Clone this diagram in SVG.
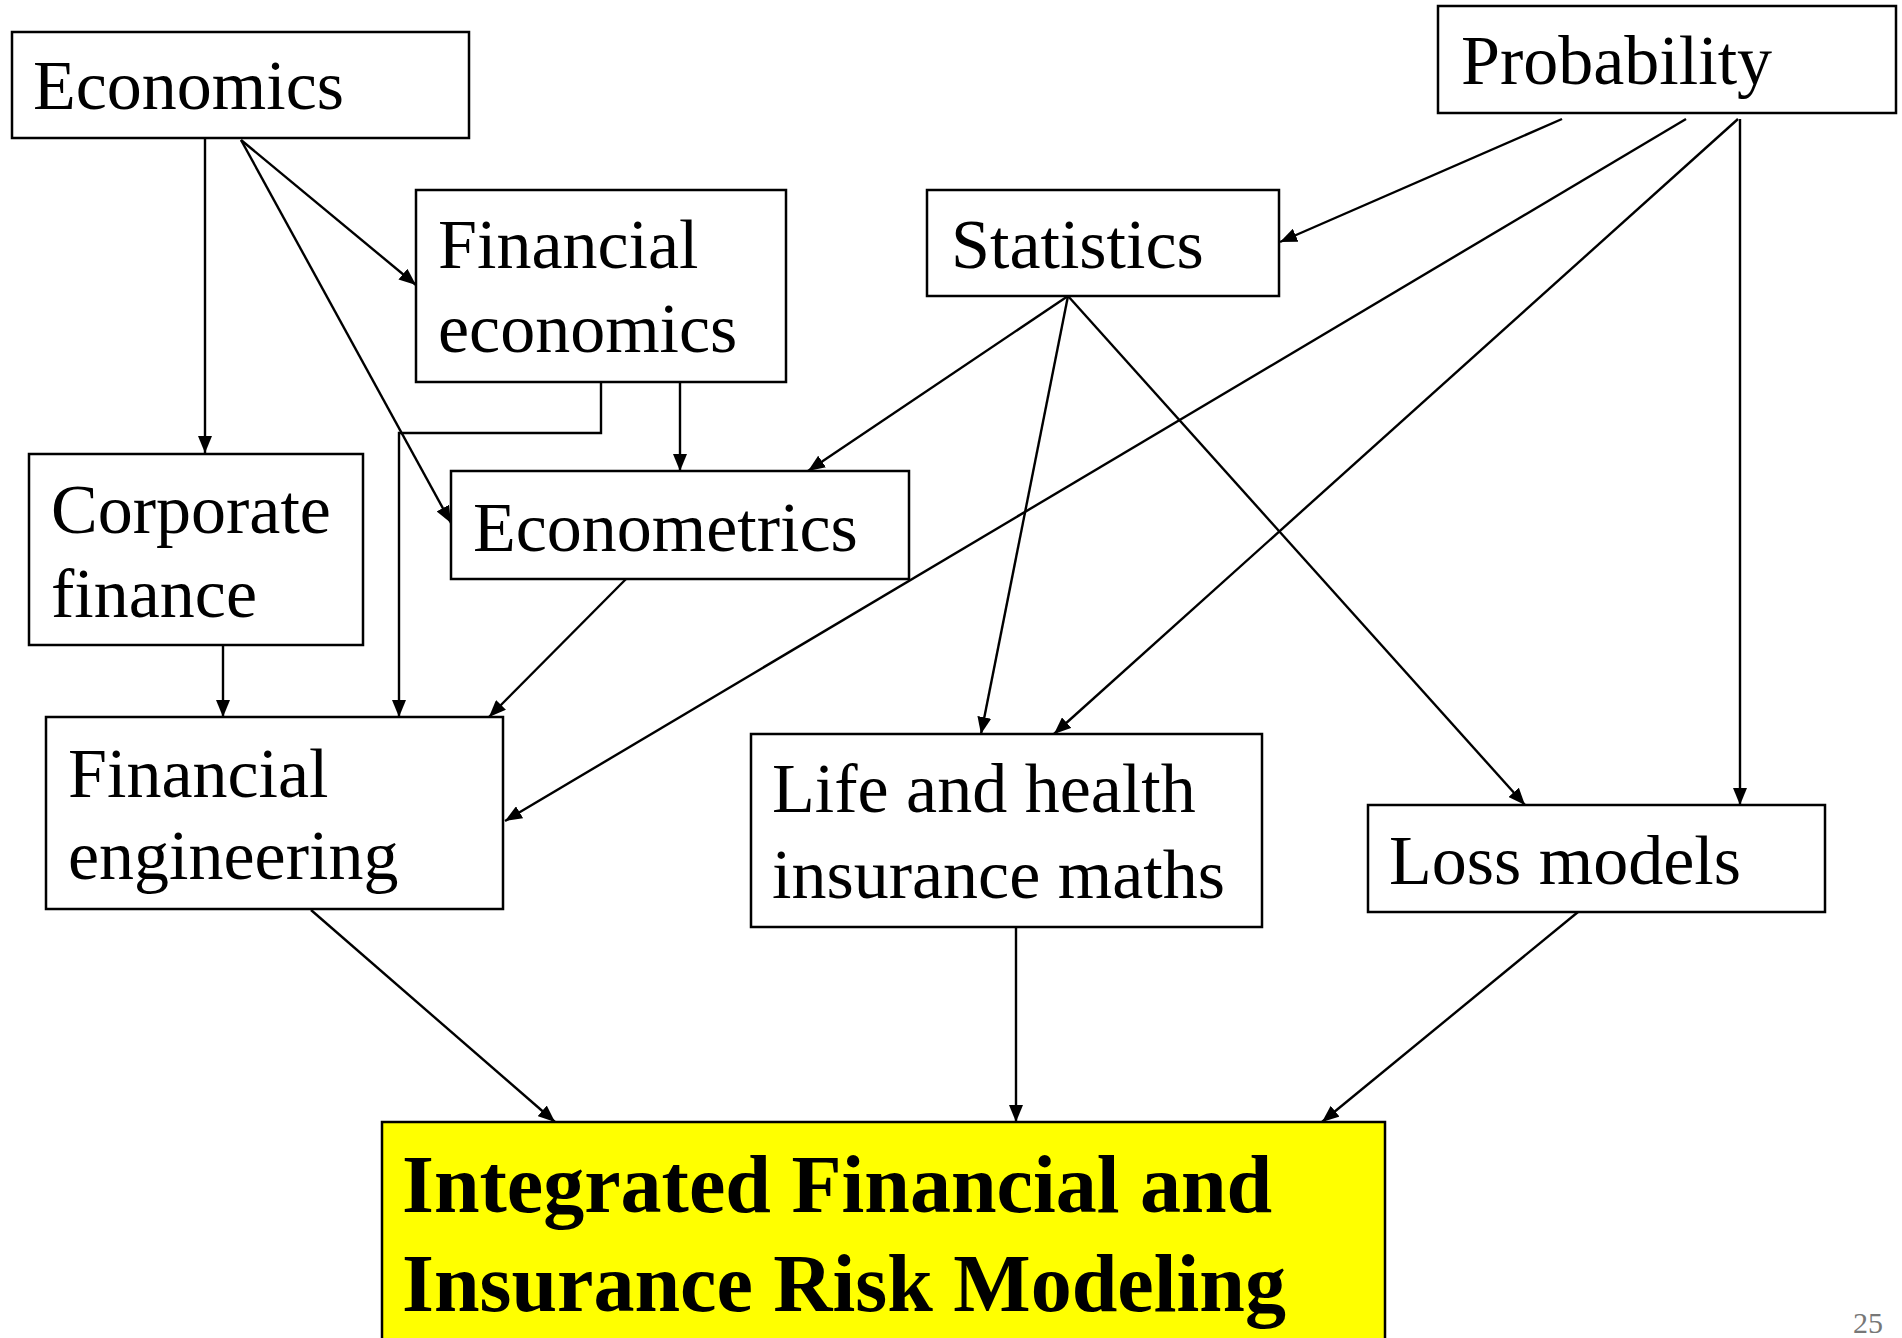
<svg xmlns="http://www.w3.org/2000/svg" width="1902" height="1338" viewBox="0 0 1902 1338">
<defs>
<style>
.box{fill:#fff;stroke:#000;stroke-width:2.5}
.hl{fill:#ffff00;stroke:#000;stroke-width:2.5}
.t{font-family:"Liberation Serif","Times New Roman",serif;font-size:70px;fill:#000}
.tb{font-family:"Liberation Serif","Times New Roman",serif;font-size:82px;font-weight:bold;fill:#000}
.c{fill:none;stroke:#000;stroke-width:2.4}
.pg{font-family:"Liberation Serif","Times New Roman",serif;font-size:30px;fill:#777}
</style>
<marker id="ah" viewBox="0 0 17 14" refX="17" refY="7" markerWidth="17" markerHeight="14" markerUnits="userSpaceOnUse" orient="auto">
<path d="M0,0 L17,7 L0,14 Z" fill="#000"/>
</marker>
</defs>
<rect width="1902" height="1338" fill="#fff"/>

<g id="connectors">
<line class="c" x1="205" y1="139" x2="205" y2="453" marker-end="url(#ah)"/>
<line class="c" x1="241" y1="140" x2="416" y2="285" marker-end="url(#ah)"/>
<line class="c" x1="241" y1="140" x2="451" y2="523" marker-end="url(#ah)"/>
<polyline class="c" points="601,382 601,433 399,433 399,717" marker-end="url(#ah)"/>
<line class="c" x1="680" y1="382" x2="680" y2="471" marker-end="url(#ah)"/>
<line class="c" x1="1068" y1="296" x2="808" y2="471" marker-end="url(#ah)"/>
<line class="c" x1="1068" y1="296" x2="981" y2="734" marker-end="url(#ah)"/>
<line class="c" x1="1068" y1="296" x2="1525" y2="805" marker-end="url(#ah)"/>
<line class="c" x1="1562" y1="119" x2="1280" y2="242" marker-end="url(#ah)"/>
<line class="c" x1="1686" y1="119" x2="505" y2="821" marker-end="url(#ah)"/>
<line class="c" x1="1738" y1="119" x2="1054" y2="734" marker-end="url(#ah)"/>
<line class="c" x1="1740" y1="119" x2="1740" y2="805" marker-end="url(#ah)"/>
<line class="c" x1="626" y1="579" x2="489" y2="717" marker-end="url(#ah)"/>
<line class="c" x1="223" y1="646" x2="223" y2="717" marker-end="url(#ah)"/>
<line class="c" x1="311" y1="910" x2="555" y2="1122" marker-end="url(#ah)"/>
<line class="c" x1="1016" y1="928" x2="1016" y2="1122" marker-end="url(#ah)"/>
<line class="c" x1="1578" y1="912" x2="1322" y2="1122" marker-end="url(#ah)"/>
</g>

<g id="economics">
<rect class="box" x="12" y="32" width="457" height="106"/>
<text class="t" x="33" y="109">Economics</text>
</g>
<g id="financial-economics">
<rect class="box" x="416" y="190" width="370" height="192"/>
<text class="t" x="438" y="268">Financial</text>
<text class="t" x="438" y="352">economics</text>
</g>
<g id="statistics">
<rect class="box" x="927" y="190" width="352" height="106"/>
<text class="t" x="951" y="268">Statistics</text>
</g>
<g id="probability">
<rect class="box" x="1438" y="6" width="458" height="107"/>
<text class="t" x="1461" y="84">Probability</text>
</g>
<g id="corporate-finance">
<rect class="box" x="29" y="454" width="334" height="191"/>
<text class="t" x="51" y="533">Corporate</text>
<text class="t" x="51" y="617">finance</text>
</g>
<g id="econometrics">
<rect class="box" x="451" y="471" width="458" height="108"/>
<text class="t" x="473" y="551">Econometrics</text>
</g>
<g id="financial-engineering">
<rect class="box" x="46" y="717" width="457" height="192"/>
<text class="t" x="68" y="797">Financial</text>
<text class="t" x="68" y="879">engineering</text>
</g>
<g id="life-health">
<rect class="box" x="751" y="734" width="511" height="193"/>
<text class="t" x="772" y="812">Life and health</text>
<text class="t" x="772" y="898">insurance maths</text>
</g>
<g id="loss-models">
<rect class="box" x="1368" y="805" width="457" height="107"/>
<text class="t" x="1389" y="884">Loss models</text>
</g>
<g id="integrated">
<rect class="hl" x="382" y="1122" width="1003" height="240"/>
<text class="tb" x="402" y="1212">Integrated Financial and</text>
<text class="tb" x="402" y="1311">Insurance Risk Modeling</text>
</g>
<text class="pg" x="1853" y="1333">25</text>
</svg>
